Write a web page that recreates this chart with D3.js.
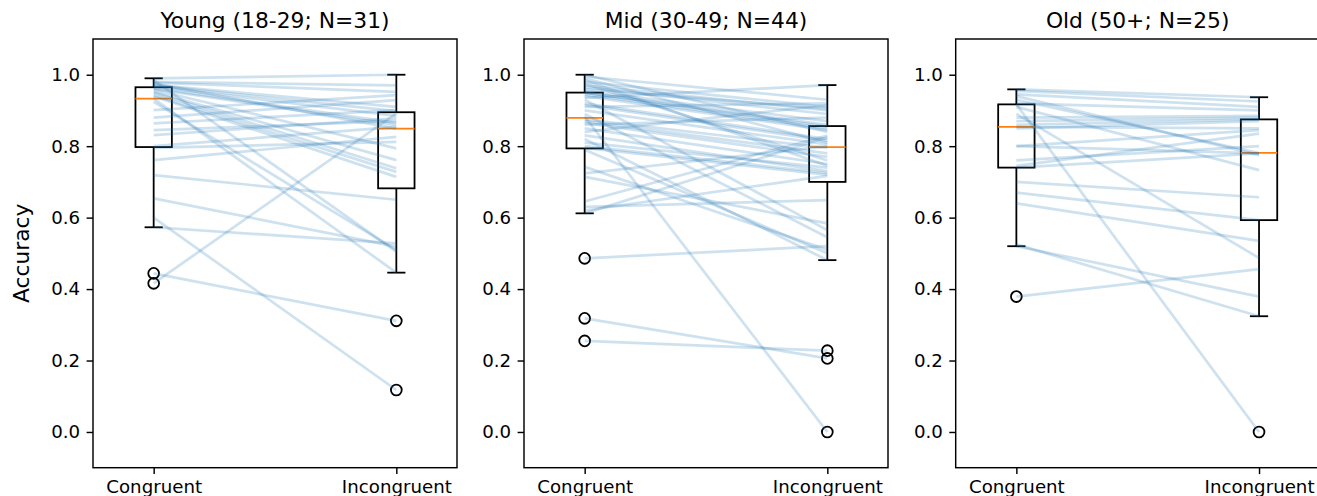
<!doctype html>
<html>
  <head>
    <meta charset="utf-8">
    <title>Accuracy by age group</title>
    <style>
      body { margin: 0; background: #fff; }
      svg text { font-family: "DejaVu Sans", sans-serif; fill: #000; }
    </style>
  </head>
  <body>
    <div id="chart"></div>

    <script src="https://cdn.jsdelivr.net/npm/d3@7"></script>
    <script>
      // conditions on the x axis
      var categories = ['Congruent', 'Incongruent'];
      var groupTitles = ['Young (18-29; N=31)', 'Mid (30-49; N=44)', 'Old (50+; N=25)'];
      var yTicks = [0.0, 0.2, 0.4, 0.6, 0.8, 1.0];

      // one entry per participant, congruent[i] pairs with incongruent[i]
      var youngCongruent = [0.416, 0.444, 0.600, 0.573, 0.654, 0.719, 0.761, 0.795, 0.800, 0.831,
        0.845, 0.864, 0.880, 0.901, 0.924, 0.933, 0.940, 0.943, 0.950, 0.952, 0.958, 0.960,
        0.963, 0.967, 0.970, 0.972, 0.975, 0.978, 0.980, 0.985, 0.990];
      var youngIncongruent = [0.892, 0.311, 0.1175, 0.528, 0.519, 0.650, 0.826, 0.812, 0.854, 0.878,
        0.870, 0.901, 0.929, 0.943, 0.509, 0.446, 0.714, 0.728, 0.738, 0.761, 0.794, 0.859,
        0.865, 0.885, 0.898, 0.910, 0.849, 0.952, 0.970, 0.505, 1.000];

      var midCongruent = [0.255, 0.318, 0.486, 0.612, 0.620, 0.630, 0.645, 0.714, 0.724, 0.742,
        0.790, 0.795, 0.800, 0.810, 0.820, 0.830, 0.840, 0.850, 0.860, 0.865, 0.870, 0.875,
        0.883, 0.890, 0.900, 0.910, 0.915, 0.920, 0.930, 0.935, 0.940, 0.945, 0.950, 0.950,
        0.955, 0.960, 0.965, 0.970, 0.975, 0.980, 0.985, 0.990, 0.995, 1.000];
      var midIncongruent = [0.2276, 0.206, 0.520, 0.825, 0.717, 0.649, 0.830, 0.584, 0.800, 0.510,
        0.500, 0.720, 0.725, 0.740, 0.481, 0.730, 0.915, 0.750, 0.880, 0.770, 0.780, 0.795,
        0.000, 0.545, 0.805, 0.920, 0.815, 0.820, 0.565, 0.971, 0.845, 0.850, 0.855, 0.860,
        0.870, 0.905, 0.890, 0.900, 0.760, 0.910, 0.745, 0.810, 0.930, 0.840];

      var oldCongruent = [0.379, 0.520, 0.525, 0.640, 0.670, 0.700, 0.740, 0.745, 0.760, 0.800,
        0.800, 0.850, 0.854, 0.860, 0.870, 0.880, 0.890, 0.910, 0.917, 0.920, 0.930, 0.940,
        0.945, 0.955, 0.959];
      var oldIncongruent = [0.456, 0.379, 0.324, 0.535, 0.593, 0.657, 0.780, 0.835, 0.800, 0.845,
        0.780, 0.870, 0.850, 0.875, 0.880, 0.885, 0.487, 0.733, 0.000, 0.900, 0.781, 0.775,
        0.910, 0.925, 0.937];

      var groups = [
        [youngCongruent, youngIncongruent],
        [midCongruent, midIncongruent],
        [oldCongruent, oldIncongruent]
      ];

      var width = 1317;
      var height = 496;
      var panelLefts = [93, 524, 955.7];
      var panelWidth = 364;
      var plotTop = 39;
      var plotBottom = 467.7;

      var svg = d3.select('#chart')
        .append('svg')
        .attr('width', width)
        .attr('height', height);

      var y = d3.scaleLinear()
        .domain([-0.1, 1.1])
        .range([plotBottom, plotTop]);

      // matplotlib style box stats (linear quantiles, 1.5 IQR whiskers)
      function boxStats(values) {
        var s = values.slice().sort(d3.ascending);
        var q1 = d3.quantileSorted(s, 0.25);
        var med = d3.quantileSorted(s, 0.5);
        var q3 = d3.quantileSorted(s, 0.75);
        var iqr = q3 - q1;
        var lo = d3.min(s.filter(function(v) { return v >= q1 - 1.5 * iqr; }));
        var hi = d3.max(s.filter(function(v) { return v <= q3 + 1.5 * iqr; }));
        var fliers = s.filter(function(v) { return v < lo || v > hi; });
        return {q1: q1, med: med, q3: q3, lo: lo, hi: hi, fliers: fliers};
      }

      groups.forEach(function(data, gi) {
        var left = panelLefts[gi];
        var x = d3.scaleLinear()
          .domain([0.75, 2.25])
          .range([left, left + panelWidth]);

        var g = svg.append('g');

        // boxes
        var boxHalf = x(1.075) - x(1);
        var capHalf = x(1.0375) - x(1);
        data.forEach(function(values, ci) {
          var st = boxStats(values);
          var cx = x(ci + 1);
          var box = g.append('g')
            .attr('fill', 'none')
            .attr('stroke', '#000')
            .attr('stroke-width', 1.8);
          box.append('rect')
            .attr('x', cx - boxHalf)
            .attr('y', y(st.q3))
            .attr('width', boxHalf * 2)
            .attr('height', y(st.q1) - y(st.q3));
          box.append('line')
            .attr('x1', cx).attr('x2', cx)
            .attr('y1', y(st.q3)).attr('y2', y(st.hi));
          box.append('line')
            .attr('x1', cx).attr('x2', cx)
            .attr('y1', y(st.q1)).attr('y2', y(st.lo));
          box.append('line')
            .attr('x1', cx - capHalf).attr('x2', cx + capHalf)
            .attr('y1', y(st.hi)).attr('y2', y(st.hi));
          box.append('line')
            .attr('x1', cx - capHalf).attr('x2', cx + capHalf)
            .attr('y1', y(st.lo)).attr('y2', y(st.lo));
          g.append('line')
            .attr('x1', cx - boxHalf).attr('x2', cx + boxHalf)
            .attr('y1', y(st.med)).attr('y2', y(st.med))
            .attr('stroke', '#ff7f0e')
            .attr('stroke-width', 1.8);
          g.selectAll(null)
            .data(st.fliers)
            .enter()
            .append('circle')
            .attr('cx', cx)
            .attr('cy', function(d) { return y(d); })
            .attr('r', 5.4)
            .attr('fill', 'none')
            .attr('stroke', '#000')
            .attr('stroke-width', 1.8);
        });

        // paired lines per participant
        g.append('g')
          .selectAll('line')
          .data(d3.range(data[0].length))
          .enter()
          .append('line')
          .attr('x1', x(1))
          .attr('x2', x(2))
          .attr('y1', function(i) { return y(data[0][i]); })
          .attr('y2', function(i) { return y(data[1][i]); })
          .attr('stroke', '#1f77b4')
          .attr('stroke-opacity', 0.22)
          .attr('stroke-width', 2.7);

        // axes
        var yAxis = d3.axisLeft(y)
          .tickValues(yTicks)
          .tickFormat(d3.format('.1f'))
          .tickSize(6.4)
          .tickPadding(6.4);
        var ya = g.append('g')
          .attr('transform', 'translate(' + left + ',0)')
          .call(yAxis);
        ya.select('.domain').remove();
        ya.selectAll('text')
          .style('font-size', '18.2px')
          .attr('fill', '#000');
        ya.selectAll('line').attr('stroke', '#000').attr('stroke-width', 1.45);

        var xAxis = d3.axisBottom(x)
          .tickValues([1, 2])
          .tickFormat(function(d) { return categories[d - 1]; })
          .tickSize(6.4)
          .tickPadding(6.4);
        var xa = g.append('g')
          .attr('transform', 'translate(0,' + plotBottom + ')')
          .call(xAxis);
        xa.select('.domain').remove();
        xa.selectAll('text')
          .style('font-size', '18.2px')
          .attr('fill', '#000');
        xa.selectAll('line').attr('stroke', '#000').attr('stroke-width', 1.45);

        // frame
        g.append('rect')
          .attr('x', left)
          .attr('y', plotTop)
          .attr('width', panelWidth)
          .attr('height', plotBottom - plotTop)
          .attr('fill', 'none')
          .attr('stroke', '#000')
          .attr('stroke-width', 1.45);

        g.append('text')
          .attr('x', left + panelWidth / 2)
          .attr('y', 28)
          .attr('text-anchor', 'middle')
          .style('font-size', '21.8px')
          .text(groupTitles[gi]);
      });

      svg.append('text')
        .attr('transform', 'translate(28.5,' + ((plotTop + plotBottom) / 2) + ') rotate(-90)')
        .attr('text-anchor', 'middle')
        .style('font-size', '21.8px')
        .text('Accuracy');
    </script>
  </body>
</html>
